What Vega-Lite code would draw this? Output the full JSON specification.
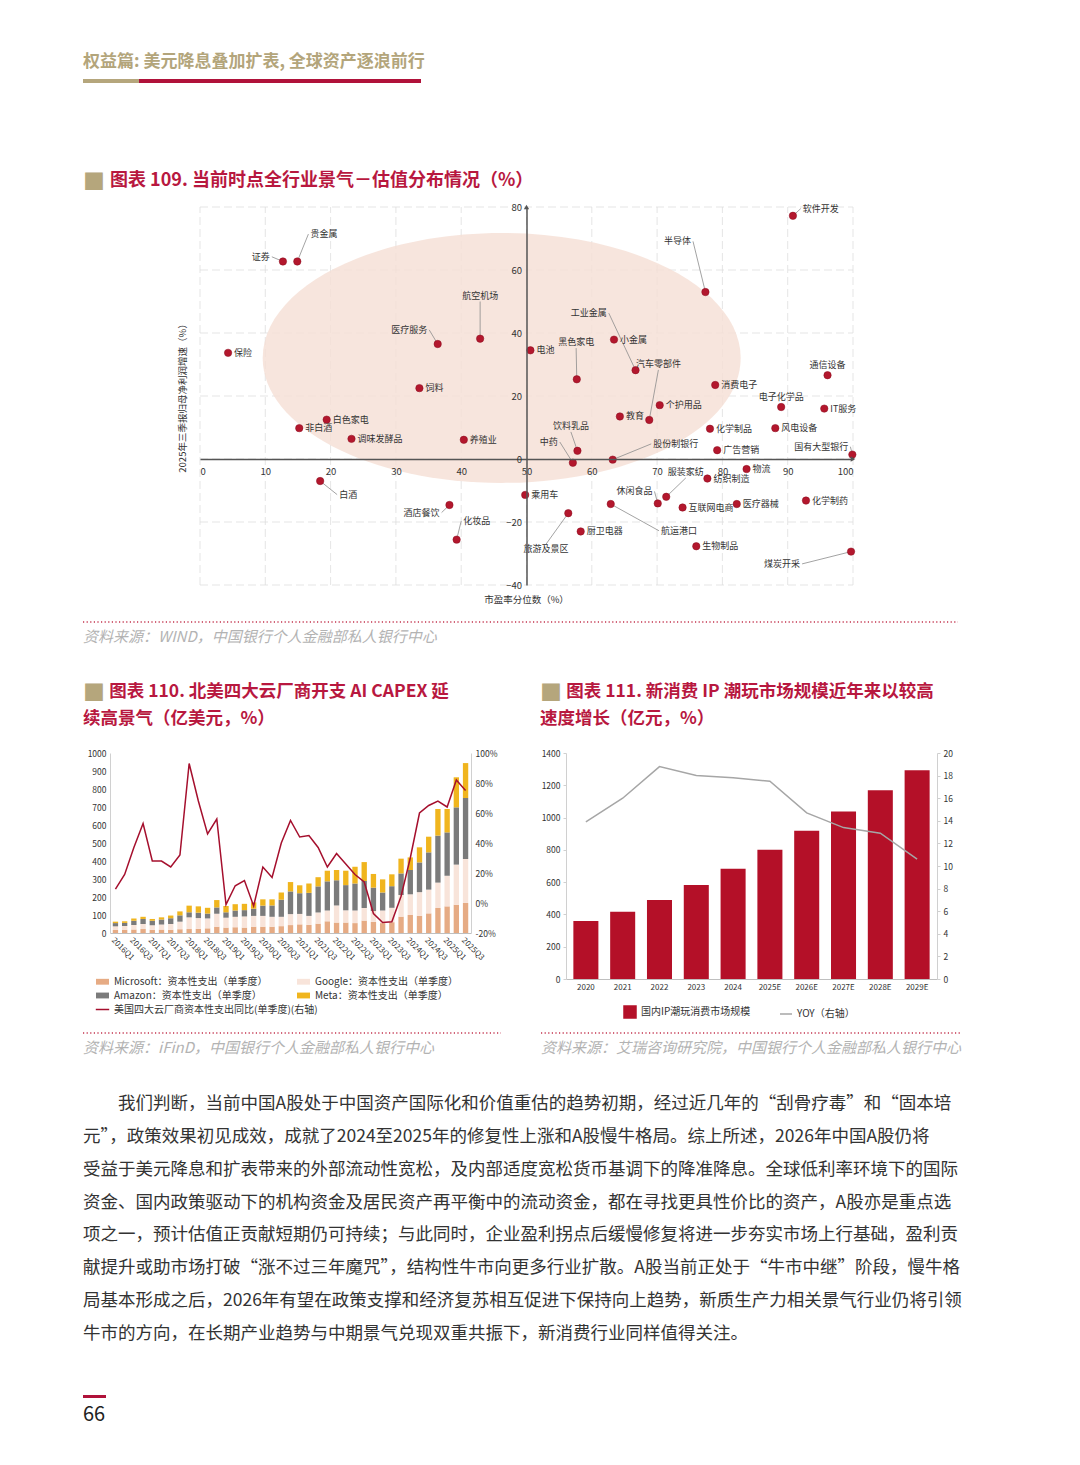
{
  "$schema": "https://vega.github.io/schema/vega-lite/v6.json",
  "background": "white",
  "padding": {"left": 82, "top": 53, "right": 10, "bottom": 10},
  "config": {
    "font": "Noto Sans CJK SC",
    "view": {"stroke": null},
    "axis": {"labelFont": "Noto Sans CJK SC", "titleFont": "Noto Sans CJK SC"},
    "legend": {"labelFont": "Noto Sans CJK SC", "layout": {"bottom": {"anchor": "middle", "direction": "vertical", "center": false, "margin": 1}}},
    "title": {"font": "Noto Sans CJK SC", "subtitleFont": "Noto Sans CJK SC"},
    "text": {"font": "Noto Sans CJK SC"}
  },
  "columns": 1,
  "align": "none",
  "spacing": 36,
  "resolve": {"scale": {"color": "independent", "stroke": "independent"}},
  "concat": [
    {
      "columns": 1,
      "align": "none",
      "spacing": 88,
      "resolve": {"scale": {"color": "independent", "stroke": "independent"}},
      "concat": [
        {
          "width": 338, "height": 4,
          "data": {"values": [{"part": "a", "share": 56}, {"part": "b", "share": 282}]},
          "title": {"text": "权益篇: 美元降息叠加扩表, 全球资产逐浪前行", "anchor": "start", "frame": "group", "fontSize": 17, "fontWeight": "bold", "color": "#b3a57b", "offset": 8},
          "mark": {"type": "bar", "orient": "horizontal"},
          "encoding": {
            "x": {"field": "share", "type": "quantitative", "stack": "zero", "axis": null, "scale": {"domain": [0, 338]}},
            "y": {"datum": "u", "type": "nominal", "axis": null, "scale": {"paddingInner": 0, "paddingOuter": 0}},
            "order": {"field": "part", "type": "ordinal"},
            "color": {"field": "part", "type": "nominal", "legend": null, "scale": {"domain": ["a", "b"], "range": ["#b5a67c", "#b0123a"]}}
          }
        },
        {
          "columns": 1,
          "align": "none",
          "spacing": 16,
          "resolve": {"scale": {"color": "independent", "stroke": "independent"}},
          "concat": [
            {
              "width": 770, "height": 378,
              "title": {"text": "\u200b\u3000\u2002图表 109. 当前时点全行业景气－估值分布情况（%）", "subtitle": "■", "anchor": "start", "frame": "group", "fontSize": 18, "fontWeight": "bold", "color": "#b8183f", "subtitleColor": "#b5a67c", "subtitleFontSize": 22, "subtitlePadding": -18, "offset": 8},
              "data": {"values": [
                {"n": "证券", "pe": 12.7, "g": 62.7, "lx": 11.0, "ly": 64.2, "s": "l"},
                {"n": "贵金属", "pe": 14.9, "g": 62.7, "lx": 16.6, "ly": 71.4, "s": "r"},
                {"n": "保险", "pe": 4.3, "g": 33.7, "s": "r"},
                {"n": "医疗服务", "pe": 36.4, "g": 36.5, "lx": 35.1, "ly": 41.0, "s": "l"},
                {"n": "航空机场", "pe": 42.9, "g": 38.2, "lx": 42.9, "ly": 50.0, "s": "t"},
                {"n": "饲料", "pe": 33.6, "g": 22.5, "s": "r"},
                {"n": "白色家电", "pe": 19.4, "g": 12.5, "s": "r"},
                {"n": "非白酒", "pe": 15.2, "g": 9.8, "s": "r"},
                {"n": "调味发酵品", "pe": 23.2, "g": 6.4, "s": "r"},
                {"n": "养殖业", "pe": 40.4, "g": 6.1, "s": "r"},
                {"n": "电池", "pe": 50.6, "g": 34.5, "s": "r"},
                {"n": "黑色家电", "pe": 57.7, "g": 25.3, "lx": 57.6, "ly": 35.2, "s": "t"},
                {"n": "小金属", "pe": 63.4, "g": 37.9, "s": "r"},
                {"n": "工业金属", "pe": 66.7, "g": 28.2, "lx": 62.6, "ly": 46.3, "s": "l"},
                {"n": "汽车零部件", "pe": 68.8, "g": 12.4, "lx": 70.2, "ly": 28.3, "s": "t"},
                {"n": "教育", "pe": 64.3, "g": 13.5, "s": "r"},
                {"n": "个护用品", "pe": 70.4, "g": 17.1, "s": "r"},
                {"n": "饮料乳品", "pe": 57.8, "g": 2.6, "lx": 56.8, "ly": 8.6, "s": "t"},
                {"n": "中药", "pe": 57.1, "g": -1.2, "lx": 55.1, "ly": 5.4, "s": "l"},
                {"n": "股份制银行", "pe": 63.2, "g": -0.2, "lx": 69.1, "ly": 4.8, "s": "r"},
                {"n": "消费电子", "pe": 78.9, "g": 23.5, "s": "r"},
                {"n": "化学制品", "pe": 78.1, "g": 9.6, "s": "r"},
                {"n": "广告营销", "pe": 79.2, "g": 2.8, "s": "r"},
                {"n": "半导体", "pe": 77.4, "g": 53.0, "lx": 75.5, "ly": 69.1, "s": "l"},
                {"n": "软件开发", "pe": 90.8, "g": 77.2, "lx": 92.0, "ly": 79.5, "s": "r"},
                {"n": "通信设备", "pe": 96.1, "g": 26.6, "s": "t"},
                {"n": "电子化学品", "pe": 89.0, "g": 16.5, "s": "t"},
                {"n": "IT服务", "pe": 95.6, "g": 16.0, "s": "r"},
                {"n": "风电设备", "pe": 88.1, "g": 9.8, "s": "r"},
                {"n": "国有大型银行", "pe": 99.9, "g": 1.4, "lx": 99.6, "ly": 3.9, "s": "l"},
                {"n": "物流", "pe": 83.7, "g": -3.2, "s": "r"},
                {"n": "纺织制造", "pe": 77.7, "g": -6.2, "s": "r"},
                {"n": "服装家纺", "pe": 71.4, "g": -12.0, "lx": 74.4, "ly": -6.0, "s": "t"},
                {"n": "休闲食品", "pe": 70.1, "g": -14.1, "lx": 69.6, "ly": -10.3, "s": "l"},
                {"n": "互联网电商", "pe": 73.9, "g": -15.4, "s": "r"},
                {"n": "医疗器械", "pe": 82.2, "g": -14.3, "s": "r"},
                {"n": "化学制药", "pe": 92.8, "g": -13.2, "s": "r"},
                {"n": "乘用车", "pe": 49.8, "g": -11.4, "s": "r"},
                {"n": "旅游及景区", "pe": 56.4, "g": -17.2, "lx": 53.0, "ly": -27.0, "s": "b"},
                {"n": "航运港口", "pe": 62.9, "g": -14.3, "lx": 70.3, "ly": -22.8, "s": "r"},
                {"n": "厨卫电器", "pe": 58.3, "g": -23.0, "s": "r"},
                {"n": "生物制品", "pe": 76.0, "g": -27.7, "s": "r"},
                {"n": "煤炭开采", "pe": 99.7, "g": -29.4, "lx": 92.2, "ly": -33.3, "s": "l"},
                {"n": "白酒", "pe": 18.4, "g": -7.0, "lx": 21.0, "ly": -11.3, "s": "r"},
                {"n": "酒店餐饮", "pe": 38.2, "g": -14.6, "lx": 37.0, "ly": -17.0, "s": "l"},
                {"n": "化妆品", "pe": 39.3, "g": -25.6, "lx": 40.0, "ly": -19.7, "s": "r"}
              ]},
              "layer": [
                {
                  "data": {"values": [{"v": 0}, {"v": 10}, {"v": 20}, {"v": 30}, {"v": 40}, {"v": 50}, {"v": 60}, {"v": 70}, {"v": 80}, {"v": 90}, {"v": 100}]},
                  "mark": {"type": "rule", "color": "#dedede", "strokeWidth": 0.8, "strokeDash": [8, 4]},
                  "encoding": {
                    "x": {"field": "v", "type": "quantitative", "scale": {"domain": [0, 100], "nice": false, "zero": false, "rangeMin": 117},
                      "axis": {"orient": "bottom", "offset": -126, "zindex": 1, "grid": false, "values": [0, 10, 20, 30, 40, 50, 60, 70, 80, 90, 100], "labelFontSize": 9.5, "labelColor": "#333333", "labelPadding": 7, "ticks": false, "domainColor": "#555555", "domainWidth": 1.5, "title": null}},
                    "y": {"datum": -40, "type": "quantitative", "scale": {"domain": [-40, 80], "nice": false, "zero": false},
                      "axis": {"orient": "left", "offset": -443.5, "zindex": 1, "grid": false, "values": [-40, -20, 0, 20, 40, 60, 80], "labelFontSize": 9.5, "labelColor": "#333333", "labelPadding": 5, "ticks": false, "domainColor": "#555555", "domainWidth": 1.5, "title": null}},
                    "y2": {"datum": 80}
                  }
                },
                {
                  "data": {"values": [{"v": -40}, {"v": -20}, {"v": 0}, {"v": 20}, {"v": 40}, {"v": 60}, {"v": 80}]},
                  "mark": {"type": "rule", "color": "#dedede", "strokeWidth": 0.8, "strokeDash": [8, 4]},
                  "encoding": {
                    "y": {"field": "v", "type": "quantitative", "scale": {"domain": [-40, 80], "nice": false, "zero": false}},
                    "x": {"datum": 0, "type": "quantitative", "scale": {"domain": [0, 100], "nice": false, "zero": false, "rangeMin": 117}},
                    "x2": {"datum": 100}
                  }
                },
                {
                  "data": {"values": [{"cx": 46.2, "cy": 32.1}]},
                  "mark": {"type": "point", "shape": "M-1,0A1,0.523,0,1,0,1,0A1,0.523,0,1,0,-1,0Z", "size": 228484, "filled": true, "color": "#f5dfd5", "opacity": 0.8, "strokeWidth": 0},
                  "encoding": {
                    "x": {"field": "cx", "type": "quantitative", "scale": {"domain": [0, 100], "nice": false, "zero": false, "rangeMin": 117}},
                    "y": {"field": "cy", "type": "quantitative", "scale": {"domain": [-40, 80], "nice": false, "zero": false}}
                  }
                },
                {
                  "data": {"values": [{"label": "市盈率分位数（%）", "px": 50, "py": -40}]},
                  "mark": {"type": "text", "align": "center", "baseline": "middle", "dy": 15, "fontSize": 9.5, "color": "#333333"},
                  "encoding": {
                    "x": {"field": "px", "type": "quantitative", "scale": {"domain": [0, 100], "nice": false, "zero": false, "rangeMin": 117}},
                    "y": {"field": "py", "type": "quantitative", "scale": {"domain": [-40, 80], "nice": false, "zero": false}},
                    "text": {"field": "label"}
                  }
                },
                {
                  "data": {"values": [{"label": "2025年三季报归母净利润增速（%）", "px": -2.6, "py": 20}]},
                  "mark": {"type": "text", "align": "center", "baseline": "middle", "angle": 270, "fontSize": 9.5, "color": "#333333"},
                  "encoding": {
                    "x": {"field": "px", "type": "quantitative", "scale": {"domain": [0, 100], "nice": false, "zero": false, "rangeMin": 117}},
                    "y": {"field": "py", "type": "quantitative", "scale": {"domain": [-40, 80], "nice": false, "zero": false}},
                    "text": {"field": "label"}
                  }
                },
                {
                  "transform": [{"filter": "datum.lx != null"}],
                  "mark": {"type": "rule", "color": "#8c8c8c", "strokeWidth": 0.8},
                  "encoding": {
                    "x": {"field": "pe", "type": "quantitative", "scale": {"domain": [0, 100], "nice": false, "zero": false, "rangeMin": 117}},
                    "y": {"field": "g", "type": "quantitative", "scale": {"domain": [-40, 80], "nice": false, "zero": false}},
                    "x2": {"field": "lx"},
                    "y2": {"field": "ly"}
                  }
                },
                {
                  "mark": {"type": "circle", "size": 55, "color": "#b3172d", "opacity": 1, "stroke": "#8a0c1f", "strokeWidth": 0.5},
                  "encoding": {
                    "x": {"field": "pe", "type": "quantitative", "scale": {"domain": [0, 100], "nice": false, "zero": false, "rangeMin": 117}},
                    "y": {"field": "g", "type": "quantitative", "scale": {"domain": [-40, 80], "nice": false, "zero": false}}
                  }
                },
                {
                  "transform": [{"filter": "datum.lx == null && datum.s == 'r'"}],
                  "mark": {"type": "text", "align": "left", "baseline": "middle", "dx": 6, "fontSize": 9, "color": "#333333"},
                  "encoding": {
                    "x": {"field": "pe", "type": "quantitative", "scale": {"domain": [0, 100], "nice": false, "zero": false, "rangeMin": 117}},
                    "y": {"field": "g", "type": "quantitative", "scale": {"domain": [-40, 80], "nice": false, "zero": false}},
                    "text": {"field": "n"}
                  }
                },
                {
                  "transform": [{"filter": "datum.lx == null && datum.s == 't'"}],
                  "mark": {"type": "text", "align": "center", "baseline": "bottom", "dy": -5, "fontSize": 9, "color": "#333333"},
                  "encoding": {
                    "x": {"field": "pe", "type": "quantitative", "scale": {"domain": [0, 100], "nice": false, "zero": false, "rangeMin": 117}},
                    "y": {"field": "g", "type": "quantitative", "scale": {"domain": [-40, 80], "nice": false, "zero": false}},
                    "text": {"field": "n"}
                  }
                },
                {
                  "transform": [{"filter": "datum.lx != null && datum.s == 'r'"}],
                  "mark": {"type": "text", "align": "left", "baseline": "middle", "dx": 2, "fontSize": 9, "color": "#333333"},
                  "encoding": {
                    "x": {"field": "lx", "type": "quantitative", "scale": {"domain": [0, 100], "nice": false, "zero": false, "rangeMin": 117}},
                    "y": {"field": "ly", "type": "quantitative", "scale": {"domain": [-40, 80], "nice": false, "zero": false}},
                    "text": {"field": "n"}
                  }
                },
                {
                  "transform": [{"filter": "datum.lx != null && datum.s == 'l'"}],
                  "mark": {"type": "text", "align": "right", "baseline": "middle", "dx": -2, "fontSize": 9, "color": "#333333"},
                  "encoding": {
                    "x": {"field": "lx", "type": "quantitative", "scale": {"domain": [0, 100], "nice": false, "zero": false, "rangeMin": 117}},
                    "y": {"field": "ly", "type": "quantitative", "scale": {"domain": [-40, 80], "nice": false, "zero": false}},
                    "text": {"field": "n"}
                  }
                },
                {
                  "transform": [{"filter": "datum.lx != null && datum.s == 't'"}],
                  "mark": {"type": "text", "align": "center", "baseline": "bottom", "dy": -1, "fontSize": 9, "color": "#333333"},
                  "encoding": {
                    "x": {"field": "lx", "type": "quantitative", "scale": {"domain": [0, 100], "nice": false, "zero": false, "rangeMin": 117}},
                    "y": {"field": "ly", "type": "quantitative", "scale": {"domain": [-40, 80], "nice": false, "zero": false}},
                    "text": {"field": "n"}
                  }
                },
                {
                  "transform": [{"filter": "datum.lx != null && datum.s == 'b'"}],
                  "mark": {"type": "text", "align": "center", "baseline": "top", "dy": 1, "fontSize": 9, "color": "#333333"},
                  "encoding": {
                    "x": {"field": "lx", "type": "quantitative", "scale": {"domain": [0, 100], "nice": false, "zero": false, "rangeMin": 117}},
                    "y": {"field": "ly", "type": "quantitative", "scale": {"domain": [-40, 80], "nice": false, "zero": false}},
                    "text": {"field": "n"}
                  }
                },
                {
                  "data": {"values": [{"k": 1}]},
                  "mark": {"type": "point", "shape": "triangle-up", "filled": true, "size": 28, "color": "#555555", "opacity": 1},
                  "encoding": {
                    "x": {"datum": 50, "type": "quantitative", "scale": {"domain": [0, 100], "nice": false, "zero": false, "rangeMin": 117}},
                    "y": {"datum": 80, "type": "quantitative", "scale": {"domain": [-40, 80], "nice": false, "zero": false}}
                  }
                },
                {
                  "data": {"values": [{"k": 1}]},
                  "mark": {"type": "point", "shape": "triangle-right", "filled": true, "size": 28, "color": "#555555", "opacity": 1},
                  "encoding": {
                    "x": {"datum": 100, "type": "quantitative", "scale": {"domain": [0, 100], "nice": false, "zero": false, "rangeMin": 117}},
                    "y": {"datum": 0, "type": "quantitative", "scale": {"domain": [-40, 80], "nice": false, "zero": false}}
                  }
                }
              ]
            },
            {
              "width": 875, "height": 1,
              "data": {"values": [{"a": 0, "b": 1}]},
              "mark": {"type": "rule", "color": "#c4354f", "strokeWidth": 1.6, "strokeDash": [1.2, 2.4]},
              "encoding": {
                "x": {"field": "a", "type": "quantitative", "scale": {"domain": [0, 1]}, "axis": null},
                "x2": {"field": "b"},
                "y": {"datum": 0, "type": "quantitative", "scale": {"domain": [0, 1]}, "axis": null}
              },
              "title": {"text": "资料来源：WIND，中国银行个人金融部私人银行中心", "orient": "bottom", "anchor": "start", "frame": "group", "fontSize": 15, "fontWeight": "normal", "fontStyle": "italic", "color": "#b3b3b3", "offset": 7}
            }
          ]
        }
      ]
    },
    {
      "columns": 1,
      "align": "none",
      "spacing": 32,
      "resolve": {"scale": {"color": "independent", "stroke": "independent"}},
      "concat": [
        {
          "columns": 2,
          "align": {"row": "each", "column": "none"},
          "spacing": {"row": 11, "column": 38},
          "resolve": {"scale": {"color": "independent", "stroke": "independent"}},
          "concat": [
            {
              "width": 388, "height": 180,
              "title": {"text": ["\u200b\u3000\u2002图表 110. 北美四大云厂商开支 AI CAPEX 延", "续高景气（亿美元，%）"], "subtitle": "■", "anchor": "start", "frame": "group", "fontSize": 17.5, "fontWeight": "bold", "color": "#b8183f", "lineHeight": 27, "subtitleColor": "#b5a67c", "subtitleFontSize": 22, "subtitlePadding": -44.5, "offset": 21},
              "data": {"values": [
                {"q": "2016Q1", "s1": 17, "s2": 20, "s3": 18, "s4": 8, "yoy": 9.3},
                {"q": "2016Q2", "s1": 18, "s2": 21, "s3": 17, "s4": 9, "yoy": 19},
                {"q": "2016Q3", "s1": 20, "s2": 25, "s3": 23, "s4": 12, "yoy": 37},
                {"q": "2016Q4", "s1": 22, "s2": 28, "s3": 28, "s4": 12, "yoy": 53},
                {"q": "2017Q1", "s1": 18, "s2": 25, "s3": 25, "s4": 10, "yoy": 28},
                {"q": "2017Q2", "s1": 19, "s2": 28, "s3": 28, "s4": 12, "yoy": 28},
                {"q": "2017Q3", "s1": 18, "s2": 32, "s3": 32, "s4": 15, "yoy": 24},
                {"q": "2017Q4", "s1": 21, "s2": 42, "s3": 35, "s4": 22, "yoy": 32},
                {"q": "2018Q1", "s1": 22, "s2": 65, "s3": 28, "s4": 37, "yoy": 93},
                {"q": "2018Q2", "s1": 23, "s2": 60, "s3": 30, "s4": 35, "yoy": 68},
                {"q": "2018Q3", "s1": 26, "s2": 55, "s3": 27, "s4": 32, "yoy": 46},
                {"q": "2018Q4", "s1": 35, "s2": 72, "s3": 35, "s4": 41, "yoy": 56},
                {"q": "2019Q1", "s1": 30, "s2": 55, "s3": 30, "s4": 35, "yoy": -1},
                {"q": "2019Q2", "s1": 32, "s2": 58, "s3": 35, "s4": 35, "yoy": 11.5},
                {"q": "2019Q3", "s1": 30, "s2": 62, "s3": 35, "s4": 35, "yoy": 15},
                {"q": "2019Q4", "s1": 35, "s2": 60, "s3": 40, "s4": 35, "yoy": -2},
                {"q": "2020Q1", "s1": 35, "s2": 60, "s3": 57, "s4": 35, "yoy": 24},
                {"q": "2020Q2", "s1": 35, "s2": 55, "s3": 63, "s4": 34, "yoy": 17},
                {"q": "2020Q3", "s1": 38, "s2": 52, "s3": 95, "s4": 40, "yoy": 40},
                {"q": "2020Q4", "s1": 44, "s2": 61, "s3": 126, "s4": 52, "yoy": 55},
                {"q": "2021Q1", "s1": 48, "s2": 58, "s3": 115, "s4": 44, "yoy": 44},
                {"q": "2021Q2", "s1": 45, "s2": 50, "s3": 128, "s4": 52, "yoy": 45},
                {"q": "2021Q3", "s1": 52, "s2": 62, "s3": 145, "s4": 51, "yoy": 37},
                {"q": "2021Q4", "s1": 65, "s2": 60, "s3": 162, "s4": 59, "yoy": 24},
                {"q": "2022Q1", "s1": 58, "s2": 95, "s3": 140, "s4": 57, "yoy": 33},
                {"q": "2022Q2", "s1": 58, "s2": 68, "s3": 140, "s4": 80, "yoy": 26},
                {"q": "2022Q3", "s1": 55, "s2": 70, "s3": 150, "s4": 93, "yoy": 19},
                {"q": "2022Q4", "s1": 69, "s2": 70, "s3": 150, "s4": 105, "yoy": 14},
                {"q": "2023Q1", "s1": 62, "s2": 60, "s3": 130, "s4": 76, "yoy": -7},
                {"q": "2023Q2", "s1": 55, "s2": 70, "s3": 100, "s4": 73, "yoy": -13},
                {"q": "2023Q3", "s1": 60, "s2": 80, "s3": 120, "s4": 66, "yoy": -12.5},
                {"q": "2023Q4", "s1": 91, "s2": 120, "s3": 120, "s4": 82, "yoy": 4.5},
                {"q": "2024Q1", "s1": 100, "s2": 115, "s3": 135, "s4": 70, "yoy": 30},
                {"q": "2024Q2", "s1": 96, "s2": 131, "s3": 165, "s4": 84, "yoy": 60},
                {"q": "2024Q3", "s1": 109, "s2": 132, "s3": 207, "s4": 87, "yoy": 65},
                {"q": "2024Q4", "s1": 139, "s2": 141, "s3": 261, "s4": 148, "yoy": 68},
                {"q": "2025Q1", "s1": 148, "s2": 170, "s3": 241, "s4": 130, "yoy": 64},
                {"q": "2025Q2", "s1": 157, "s2": 223, "s3": 318, "s4": 167, "yoy": 82},
                {"q": "2025Q3", "s1": 167, "s2": 244, "s3": 339, "s4": 194, "yoy": 75}
              ]},
              "layer": [
                {
                  "transform": [{"fold": ["s1", "s2", "s3", "s4"], "as": ["series", "value"]}],
                  "mark": {"type": "bar"},
                  "encoding": {
                    "x": {"field": "q", "type": "ordinal", "scale": {"paddingInner": 0.42, "paddingOuter": 0.3, "rangeMin": 27},
                      "axis": {"values": ["2016Q1", "2016Q3", "2017Q1", "2017Q3", "2018Q1", "2018Q3", "2019Q1", "2019Q3", "2020Q1", "2020Q3", "2021Q1", "2021Q3", "2022Q1", "2022Q3", "2023Q1", "2023Q3", "2024Q1", "2024Q3", "2025Q1", "2025Q3"], "labelAngle": 45, "labelFontSize": 8, "labelColor": "#333333", "labelPadding": 3, "ticks": false, "domainColor": "#bfbfbf", "title": null}},
                    "y": {"field": "value", "type": "quantitative", "stack": "zero", "scale": {"domain": [0, 1000], "nice": false},
                      "axis": {"offset": -27, "values": [0, 100, 200, 300, 400, 500, 600, 700, 800, 900, 1000], "format": "d", "labelFontSize": 8.5, "labelColor": "#333333", "grid": false, "ticks": false, "domainColor": "#d0d0d0", "labelPadding": 4, "title": null}},
                    "color": {"field": "series", "type": "nominal", "scale": {"domain": ["s1", "s2", "s3", "s4"], "range": ["#e6ab84", "#f8e4da", "#7b7b7b", "#f0b51e"]},
                      "legend": {"orient": "bottom", "columns": 2, "title": null, "labelFontSize": 10, "labelColor": "#333333", "columnPadding": 28, "rowPadding": 1, "offset": 12, "symbolType": "M-1,-0.45L1,-0.45L1,0.45L-1,0.45Z", "symbolSize": 169,
                        "labelExpr": "datum.label == 's1' ? 'Microsoft：资本性支出（单季度）' : datum.label == 's2' ? 'Google：资本性支出（单季度）' : datum.label == 's3' ? 'Amazon：资本性支出（单季度）' : 'Meta：资本性支出（单季度）'"}},
                    "order": {"field": "series", "type": "ordinal", "sort": "ascending"}
                  }
                },
                {
                  "mark": {"type": "line", "strokeWidth": 1.5},
                  "encoding": {
                    "x": {"field": "q", "type": "ordinal", "scale": {"paddingInner": 0.42, "paddingOuter": 0.3, "rangeMin": 27}},
                    "y": {"field": "yoy", "type": "quantitative", "scale": {"domain": [-20, 100], "nice": false, "zero": false},
                      "axis": {"orient": "right", "values": [-20, 0, 20, 40, 60, 80, 100], "labelExpr": "datum.value + '%'", "labelFontSize": 8.5, "labelColor": "#333333", "grid": false, "ticks": false, "domainColor": "#d0d0d0", "labelPadding": 4, "title": null}},
                    "stroke": {"datum": "美国四大云厂商资本性支出同比(单季度)(右轴)", "type": "nominal", "scale": {"range": ["#a50f2d"]},
                      "legend": {"orient": "bottom", "title": null, "labelFontSize": 10, "labelColor": "#333333", "labelLimit": 300, "symbolType": "stroke", "symbolSize": 180, "symbolStrokeWidth": 1.5, "offset": 12}}
                  }
                }
              ],
              "resolve": {"scale": {"y": "independent"}}
            },
            {
              "width": 397, "height": 226,
              "title": {"text": ["\u200b\u3000\u2002图表 111. 新消费 IP 潮玩市场规模近年来以较高", "速度增长（亿元，%）"], "subtitle": "■", "anchor": "start", "frame": "group", "fontSize": 17.5, "fontWeight": "bold", "color": "#b8183f", "lineHeight": 27, "subtitleColor": "#b5a67c", "subtitleFontSize": 22, "subtitlePadding": -44.5, "offset": 21},
              "data": {"values": [
                {"year": "2020", "size": 359, "yoy": 13.9},
                {"year": "2021", "size": 417, "yoy": 16.0},
                {"year": "2022", "size": 490, "yoy": 18.8},
                {"year": "2023", "size": 582, "yoy": 18.0},
                {"year": "2024", "size": 683, "yoy": 17.8},
                {"year": "2025E", "size": 800, "yoy": 17.5},
                {"year": "2026E", "size": 919, "yoy": 14.7},
                {"year": "2027E", "size": 1037, "yoy": 13.4},
                {"year": "2028E", "size": 1170, "yoy": 12.9},
                {"year": "2029E", "size": 1293, "yoy": 10.6}
              ]},
              "layer": [
                {
                  "mark": {"type": "bar"},
                  "encoding": {
                    "x": {"field": "year", "type": "ordinal", "scale": {"paddingInner": 0.32, "paddingOuter": 0.2, "rangeMin": 26},
                      "axis": {"labelAngle": 0, "labelFontSize": 8, "labelColor": "#333333", "labelPadding": 4, "ticks": false, "domainColor": "#bfbfbf", "title": null}},
                    "y": {"field": "size", "type": "quantitative", "scale": {"domain": [0, 1400], "nice": false},
                      "axis": {"offset": -26, "values": [0, 200, 400, 600, 800, 1000, 1200, 1400], "format": "d", "labelFontSize": 8.5, "labelColor": "#333333", "grid": false, "tickSize": 3, "tickColor": "#d0d0d0", "domainColor": "#d0d0d0", "labelPadding": 3, "title": null}},
                    "color": {"datum": "国内IP潮玩消费市场规模", "type": "nominal", "scale": {"domain": ["国内IP潮玩消费市场规模", "YOY（右轴）"], "range": ["#b41028", "#a6a6a6"]},
                      "legend": {"orient": "bottom", "direction": "horizontal", "title": null, "labelFontSize": 10, "labelColor": "#333333", "symbolSize": 144, "columnPadding": 26, "offset": 14,
                        "encode": {"symbols": {"update": {
                          "shape": {"signal": "datum.value === 'YOY（右轴）' ? 'stroke' : 'square'"},
                          "fill": {"signal": "datum.value === 'YOY（右轴）' ? 'transparent' : '#b41028'"},
                          "stroke": {"signal": "datum.value === 'YOY（右轴）' ? '#a6a6a6' : 'transparent'"},
                          "strokeWidth": {"value": 1.5},
                          "opacity": {"value": 1}
                        }}}}}
                  }
                },
                {
                  "mark": {"type": "line", "strokeWidth": 1.5},
                  "encoding": {
                    "x": {"field": "year", "type": "ordinal", "scale": {"paddingInner": 0.32, "paddingOuter": 0.2, "rangeMin": 26}},
                    "y": {"field": "yoy", "type": "quantitative", "scale": {"domain": [0, 20], "nice": false},
                      "axis": {"orient": "right", "values": [0, 2, 4, 6, 8, 10, 12, 14, 16, 18, 20], "labelFontSize": 8.5, "labelColor": "#333333", "grid": false, "tickSize": 3, "tickColor": "#d0d0d0", "domainColor": "#d0d0d0", "labelPadding": 3, "title": null}},
                    "color": {"datum": "YOY（右轴）", "type": "nominal"}
                  }
                }
              ],
              "resolve": {"scale": {"y": "independent"}}
            },
            {
              "width": 418, "height": 1,
              "data": {"values": [{"a": 0, "b": 1}]},
              "mark": {"type": "rule", "color": "#c4354f", "strokeWidth": 1.6, "strokeDash": [1.2, 2.4]},
              "encoding": {
                "x": {"field": "a", "type": "quantitative", "scale": {"domain": [0, 1]}, "axis": null},
                "x2": {"field": "b"},
                "y": {"datum": 0, "type": "quantitative", "scale": {"domain": [0, 1]}, "axis": null}
              },
              "title": {"text": "资料来源：iFinD，中国银行个人金融部私人银行中心", "orient": "bottom", "anchor": "start", "frame": "group", "fontSize": 15, "fontWeight": "normal", "fontStyle": "italic", "color": "#b3b3b3", "offset": 7}
            },
            {
              "width": 419, "height": 1,
              "data": {"values": [{"a": 0, "b": 1}]},
              "mark": {"type": "rule", "color": "#c4354f", "strokeWidth": 1.6, "strokeDash": [1.2, 2.4]},
              "encoding": {
                "x": {"field": "a", "type": "quantitative", "scale": {"domain": [0, 1]}, "axis": null},
                "x2": {"field": "b"},
                "y": {"datum": 0, "type": "quantitative", "scale": {"domain": [0, 1]}, "axis": null}
              },
              "title": {"text": "资料来源：艾瑞咨询研究院，中国银行个人金融部私人银行中心", "orient": "bottom", "anchor": "start", "frame": "group", "fontSize": 15, "fontWeight": "normal", "fontStyle": "italic", "color": "#b3b3b3", "offset": 7}
            }
          ]
        },
        {
          "columns": 1,
          "align": "none",
          "spacing": 45,
          "resolve": {"scale": {"color": "independent", "stroke": "independent"}},
          "concat": [
            {
              "width": 875, "height": 262,
              "data": {"values": [
                {"i": 1, "t": "\u200b\u3000\u3000我们判断，当前中国A股处于中国资产国际化和价值重估的趋势初期，经过近几年的“刮骨疗毒”和“固本培"},
                {"i": 2, "t": "元”，政策效果初见成效，成就了2024至2025年的修复性上涨和A股慢牛格局。综上所述，2026年中国A股仍将"},
                {"i": 3, "t": "受益于美元降息和扩表带来的外部流动性宽松，及内部适度宽松货币基调下的降准降息。全球低利率环境下的国际"},
                {"i": 4, "t": "资金、国内政策驱动下的机构资金及居民资产再平衡中的流动资金，都在寻找更具性价比的资产，A股亦是重点选"},
                {"i": 5, "t": "项之一，预计估值正贡献短期仍可持续；与此同时，企业盈利拐点后缓慢修复将进一步夯实市场上行基础，盈利贡"},
                {"i": 6, "t": "献提升或助市场打破“涨不过三年魔咒”，结构性牛市向更多行业扩散。A股当前正处于“牛市中继”阶段，慢牛格"},
                {"i": 7, "t": "局基本形成之后，2026年有望在政策支撑和经济复苏相互促进下保持向上趋势，新质生产力相关景气行业仍将引领"},
                {"i": 8, "t": "牛市的方向，在长期产业趋势与中期景气兑现双重共振下，新消费行业同样值得关注。"}
              ]},
              "mark": {"type": "text", "align": "left", "baseline": "middle", "fontSize": 17.5, "color": "#333333"},
              "encoding": {
                "x": {"datum": 0, "type": "quantitative", "scale": {"domain": [0, 1]}, "axis": null},
                "y": {"field": "i", "type": "ordinal", "axis": null, "scale": {"paddingInner": 0, "paddingOuter": 0}},
                "text": {"field": "t"}
              }
            },
            {
              "width": 23, "height": 3,
              "data": {"values": [{"p": 1}]},
              "mark": {"type": "bar", "orient": "horizontal", "color": "#b0123a"},
              "encoding": {
                "x": {"field": "p", "type": "quantitative", "scale": {"domain": [0, 1]}, "axis": null},
                "y": {"datum": "u", "type": "nominal", "axis": null, "scale": {"paddingInner": 0, "paddingOuter": 0}}
              },
              "title": {"text": "66", "orient": "bottom", "anchor": "start", "frame": "group", "fontSize": 20, "fontWeight": "normal", "color": "#222222", "offset": 7}
            }
          ]
        }
      ]
    }
  ]
}
